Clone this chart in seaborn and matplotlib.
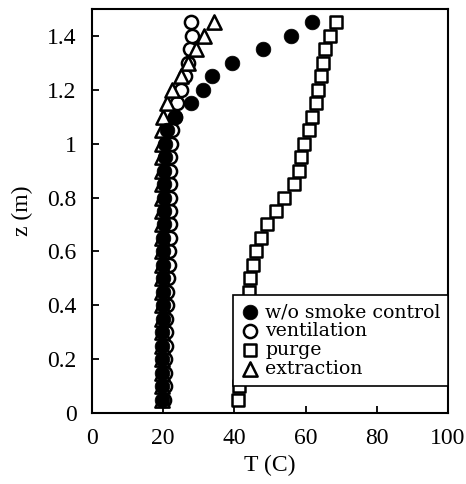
import numpy as np
import pandas as pd
import matplotlib
matplotlib.use("Agg")
import matplotlib.pyplot as plt
import seaborn as sns
from matplotlib.ticker import FuncFormatter

z = [0.05, 0.10, 0.15, 0.20, 0.25, 0.30, 0.35, 0.40, 0.45, 0.50,
     0.55, 0.60, 0.65, 0.70, 0.75, 0.80, 0.85, 0.90, 0.95, 1.00,
     1.05, 1.10, 1.15, 1.20, 1.25, 1.30, 1.35, 1.40, 1.45]

T_none = [19.8, 19.8, 19.8, 19.8, 19.8, 19.8, 19.9, 19.9, 19.9, 20.0,
          20.0, 20.0, 20.0, 20.1, 20.1, 20.2, 20.2, 20.3, 20.4, 20.6,
          21.0, 23.2, 27.8, 31.3, 33.6, 39.2, 47.9, 55.9, 61.8]
T_vent = [20.3, 20.4, 20.5, 20.6, 20.7, 20.8, 20.9, 21.0, 21.2, 21.4,
          21.6, 21.7, 21.8, 21.8, 21.8, 21.8, 21.9, 21.9, 22.0, 22.2,
          22.6, 23.2, 23.8, 25.0, 26.0, 26.9, 27.4, 28.0, 27.8]
T_purge = [41.0, 41.2, 41.5, 41.8, 42.2, 42.6, 43.0, 43.5, 44.1, 44.5,
           45.1, 46.2, 47.4, 49.2, 51.6, 53.9, 56.7, 58.1, 58.8, 59.5,
           60.9, 61.8, 62.8, 63.5, 64.4, 64.9, 65.5, 66.9, 68.5]
T_extr = [19.7, 19.7, 19.7, 19.7, 19.7, 19.7, 19.7, 19.7, 19.7, 19.7,
          19.7, 19.7, 19.7, 19.7, 19.7, 19.7, 19.7, 19.7, 19.8, 19.8,
          19.8, 20.0, 21.0, 22.5, 25.0, 27.0, 29.3, 31.5, 34.3]

labels = ["w/o smoke control", "ventilation", "purge", "extraction"]
x_ticks = [0, 20, 40, 60, 80, 100]
y_ticks = [0, 0.2, 0.4, 0.6, 0.8, 1.0, 1.2, 1.4]

sns.set_theme(style="white")
plt.rcParams['font.family'] = ['Liberation Serif', 'DejaVu Serif']
plt.rcParams['text.color'] = 'black'
plt.rcParams['axes.labelcolor'] = 'black'

fig = plt.figure(figsize=(4.66, 4.84), dpi=100)
L, R, B, T = 92, 448, 413, 9
ax = fig.add_axes([L/466, (484-B)/484, (R-L)/466, (B-T)/484])

df_p = pd.DataFrame({"T": T_purge, "z": z})
df_v = pd.DataFrame({"T": T_vent, "z": z})
df_e = pd.DataFrame({"T": T_extr, "z": z})
df_n = pd.DataFrame({"T": T_none, "z": z})

sns.scatterplot(data=df_p, x="T", y="z", marker="s", s=78, facecolor="white",
                edgecolor="black", linewidth=1.8, ax=ax, zorder=3, label=labels[2])
sns.scatterplot(data=df_v, x="T", y="z", marker="o", s=90, facecolor="white",
                edgecolor="black", linewidth=1.8, ax=ax, zorder=4, label=labels[1])
sns.scatterplot(data=df_e, x="T", y="z", marker="^", s=105, facecolor="white",
                edgecolor="black", linewidth=1.8, ax=ax, zorder=5, label=labels[3])
sns.scatterplot(data=df_n, x="T", y="z", marker="o", s=112, color="black",
                edgecolor="black", linewidth=0.5, ax=ax, zorder=6, label=labels[0])

ax.set_xlim(0, 100)
ax.set_ylim(0, 1.5)
ax.set_xticks(x_ticks)
ax.set_yticks(y_ticks)
ax.xaxis.set_major_formatter(FuncFormatter(lambda v, p: f"{v:g}"))
ax.yaxis.set_major_formatter(FuncFormatter(lambda v, p: f"{v:g}"))
ax.tick_params(direction="in", length=5, width=1.3, labelsize=17, colors="black",
               bottom=True, left=True, pad=11)
ax.set_xlabel("T (C)", fontsize=17, labelpad=4, color="black")
ax.set_ylabel("z (m)", fontsize=17, labelpad=10, color="black")
for sp in ax.spines.values():
    sp.set_color("black")
    sp.set_linewidth(1.5)

handles, labs = ax.get_legend_handles_labels()
order = [labs.index(l) for l in labels]
leg = ax.legend([handles[i] for i in order], [labs[i] for i in order],
                loc="lower right", bbox_to_anchor=(1.0, (B-386)/(B-T)),
                borderaxespad=0, frameon=True, fancybox=False,
                prop={"family": "DejaVu Serif", "size": 13.6},
                labelspacing=0.06, handletextpad=0.3, handlelength=1.0,
                borderpad=0.4, labelcolor="black")
leg.set_zorder(20)
leg.get_frame().set_edgecolor("black")
leg.get_frame().set_linewidth(1.2)
leg.get_frame().set_alpha(1)

fig.savefig("out.png", dpi=100)
